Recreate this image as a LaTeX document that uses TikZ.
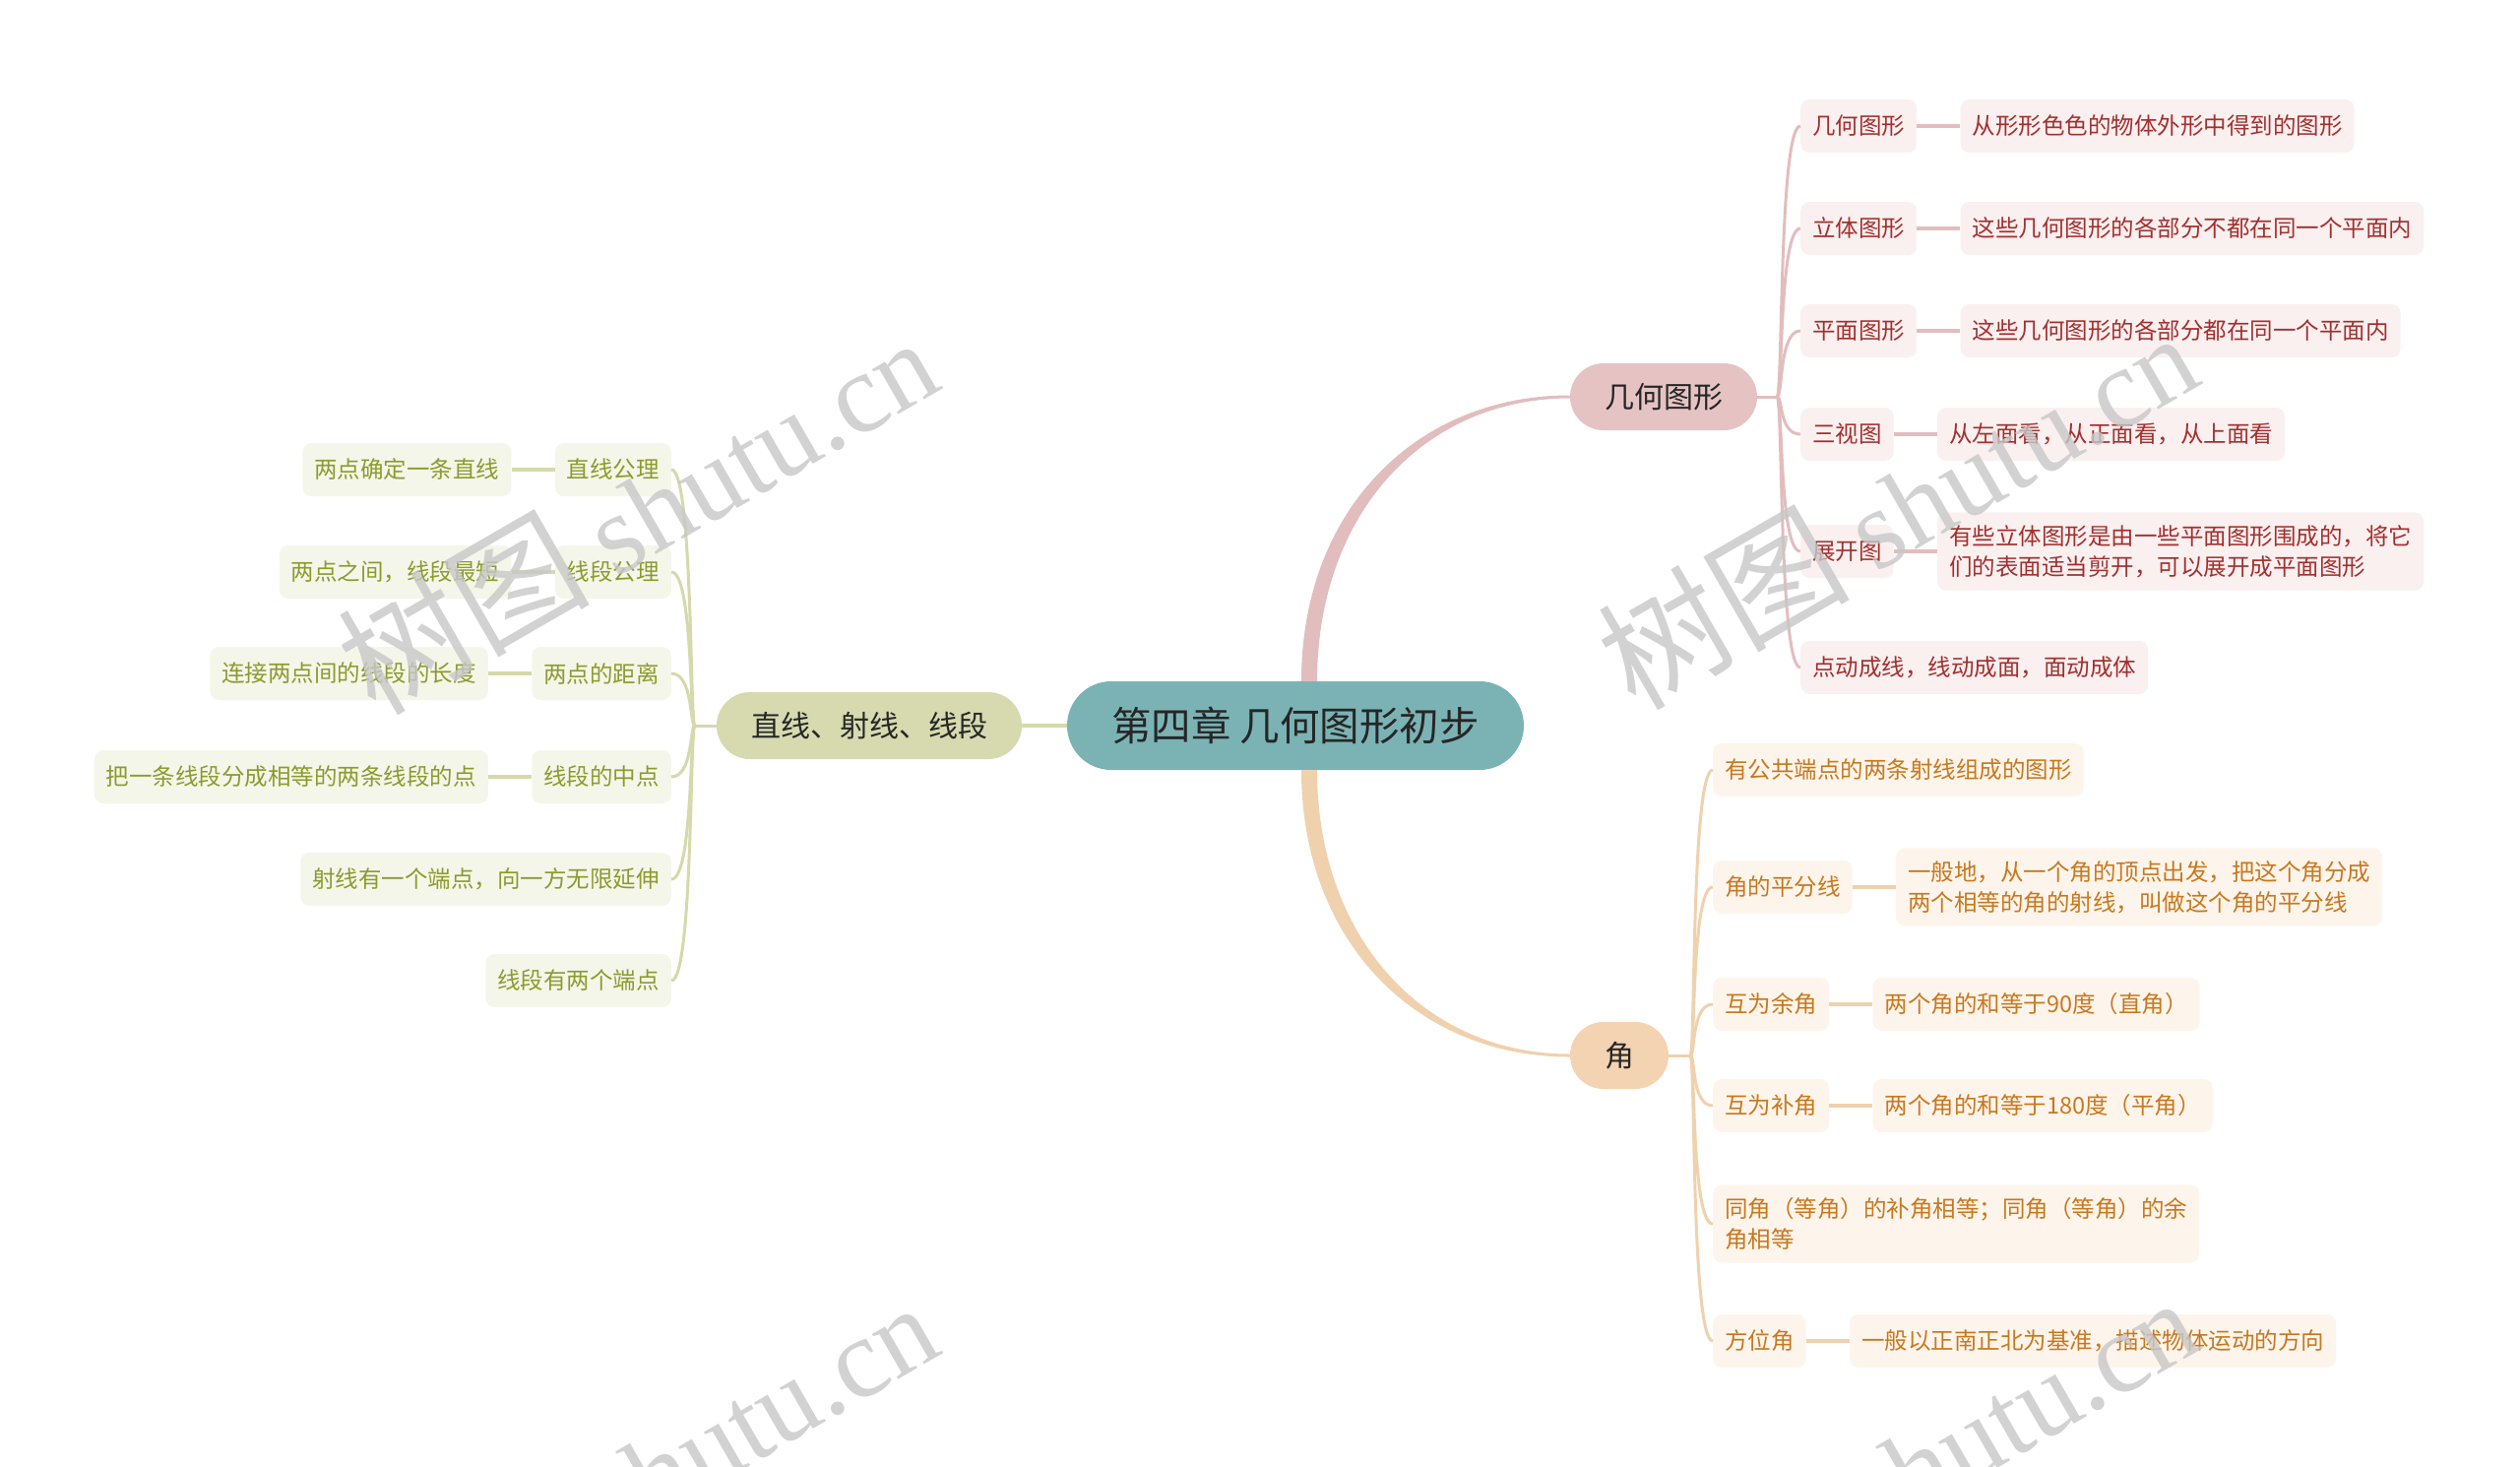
\documentclass[tikz,border=0pt]{standalone}
\usepackage{fontspec}
\setmainfont{Noto Sans CJK SC}
\newfontfamily\wmlatin{Liberation Serif}
\usepackage{tikz}
\usetikzlibrary{positioning,calc}

\definecolor{rootfill}{HTML}{7BB3B5}
\definecolor{inkdark}{HTML}{262626}
\definecolor{geomain}{HTML}{E6C3C3}
\definecolor{geobox}{HTML}{FAF0F0}
\definecolor{geoink}{HTML}{A2302F}
\definecolor{geoline}{HTML}{E2BDBD}
\definecolor{jiaomain}{HTML}{F3D3B1}
\definecolor{jiaobox}{HTML}{FDF5EC}
\definecolor{jiaoink}{HTML}{C8781E}
\definecolor{jiaoline}{HTML}{F0D1AD}
\definecolor{zxmain}{HTML}{D6DAAE}
\definecolor{zxbox}{HTML}{F5F6EA}
\definecolor{zxink}{HTML}{8C9B2D}
\definecolor{zxline}{HTML}{D5D9AB}

\begin{document}
\begin{tikzpicture}[
  x=1pt, y=-1pt,
  rootbox/.style={fill=rootfill, rounded corners=45pt, minimum width=464pt, minimum height=90pt, text=inkdark, font=\fontsize{40.5}{46}\selectfont},
  mainbox/.style={rounded corners=34pt, minimum height=68pt, text=inkdark, font=\fontsize{30}{36}\selectfont},
  leaf/.style={rounded corners=9pt, inner xsep=12pt, inner ysep=13pt, minimum height=54pt, align=left, font=\fontsize{23.5}{31}\selectfont},
  gleaf/.style={leaf, fill=geobox, text=geoink},
  jleaf/.style={leaf, fill=jiaobox, text=jiaoink},
  zleaf/.style={leaf, fill=zxbox, text=zxink},
  gln/.style={draw=geoline, line width=3pt},
  jln/.style={draw=jiaoline, line width=3pt},
  zln/.style={draw=zxline, line width=3pt},
  wm/.style={text=black!22, opacity=0.8, rotate=30, font=\fontsize{115}{115}\selectfont},
]
\useasboundingbox (0,0) rectangle (2560,1489);
\fill[white] (0,0) rectangle (2560,1489);

\node[rootbox] (root) at (1316,737) {第四章 几何图形初步};
\node[mainbox, fill=geomain, minimum width=190pt] (geo) at (1690,403) {几何图形};
\node[mainbox, fill=jiaomain, minimum width=100pt] (jiao) at (1645,1072) {角};
\node[mainbox, fill=zxmain, minimum width=310pt] (zx) at (883,737) {直线、射线、线段};

\node[gleaf, anchor=west] (g1) at (1829,128) {几何图形};
\node[gleaf, right=44pt of g1] (dg1) {从形形色色的物体外形中得到的图形};
\node[gleaf, anchor=west] (g2) at (1829,232) {立体图形};
\node[gleaf, right=44pt of g2] (dg2) {这些几何图形的各部分不都在同一个平面内};
\node[gleaf, anchor=west] (g3) at (1829,336) {平面图形};
\node[gleaf, right=44pt of g3] (dg3) {这些几何图形的各部分都在同一个平面内};
\node[gleaf, anchor=west] (g4) at (1829,441) {三视图};
\node[gleaf, right=44pt of g4] (dg4) {从左面看，从正面看，从上面看};
\node[gleaf, anchor=west] (g5) at (1829,560) {展开图};
\node[gleaf, right=44pt of g5] (dg5) {有些立体图形是由一些平面图形围成的，将它\\们的表面适当剪开，可以展开成平面图形};
\node[gleaf, anchor=west] (g6) at (1829,678) {点动成线，线动成面，面动成体};

\node[jleaf, anchor=west] (j1) at (1740,782) {有公共端点的两条射线组成的图形};
\node[jleaf, anchor=west] (j2) at (1740,901) {角的平分线};
\node[jleaf, right=44pt of j2] (dj2) {一般地，从一个角的顶点出发，把这个角分成\\两个相等的角的射线，叫做这个角的平分线};
\node[jleaf, anchor=west] (j3) at (1740,1020) {互为余角};
\node[jleaf, right=44pt of j3] (dj3) {两个角的和等于90度（直角）};
\node[jleaf, anchor=west] (j4) at (1740,1123) {互为补角};
\node[jleaf, right=44pt of j4] (dj4) {两个角的和等于180度（平角）};
\node[jleaf, anchor=west] (j5) at (1740,1243) {同角（等角）的补角相等；同角（等角）的余\\角相等};
\node[jleaf, anchor=west] (j6) at (1740,1362) {方位角};
\node[jleaf, right=44pt of j6] (dj6) {一般以正南正北为基准，描述物体运动的方向};

\node[zleaf, anchor=east] (z1) at (682,477) {直线公理};
\node[zleaf, left=44pt of z1] (dz1) {两点确定一条直线};
\node[zleaf, anchor=east] (z2) at (682,581) {线段公理};
\node[zleaf, left=44pt of z2] (dz2) {两点之间，线段最短};
\node[zleaf, anchor=east] (z3) at (682,684) {两点的距离};
\node[zleaf, left=44pt of z3] (dz3) {连接两点间的线段的长度};
\node[zleaf, anchor=east] (z4) at (682,789) {线段的中点};
\node[zleaf, left=44pt of z4] (dz4) {把一条线段分成相等的两条线段的点};
\node[zleaf, anchor=east] (z5) at (682,893) {射线有一个端点，向一方无限延伸};
\node[zleaf, anchor=east] (z6) at (682,996) {线段有两个端点};

\fill[geoline] ($(root.north)+(6,0)$) .. controls +(0,-175) and +(-155,0) .. ($(geo.west)+(0,-1.5)$) -- ($(geo.west)+(0,1.5)$) .. controls +(-150,0) and +(0,-168) .. ($(root.north)+(22,0)$) -- cycle;
\fill[jiaoline] ($(root.south)+(6,0)$) .. controls +(0,175) and +(-155,0) .. ($(jiao.west)+(0,1.5)$) -- ($(jiao.west)+(0,-1.5)$) .. controls +(-150,0) and +(0,168) .. ($(root.south)+(22,0)$) -- cycle;
\draw[zln, line width=4pt] (root) -- (zx);

\coordinate (gs) at ($(geo.east)+(20,0)$);
\draw[gln] (geo.east) -- (gs);
\foreach \c in {g1,g2,g3,g4,g5,g6} \draw[gln] (gs) .. controls +(6,0) and +(-22,0) .. (\c.west);
\draw[gln, line width=4pt] (g1) -- (dg1); \draw[gln, line width=4pt] (g2) -- (dg2); \draw[gln, line width=4pt] (g3) -- (dg3);
\draw[gln, line width=4pt] (g4) -- (dg4); \draw[gln, line width=4pt] (g5) -- (dg5);

\coordinate (js) at ($(jiao.east)+(22,0)$);
\draw[jln] (jiao.east) -- (js);
\foreach \c in {j1,j2,j3,j4,j5,j6} \draw[jln] (js) .. controls +(5,0) and +(-22,0) .. (\c.west);
\draw[jln, line width=4pt] (j2) -- (dj2); \draw[jln, line width=4pt] (j3) -- (dj3);
\draw[jln, line width=4pt] (j4) -- (dj4); \draw[jln, line width=4pt] (j6) -- (dj6);

\coordinate (zs) at ($(zx.west)+(-22,0)$);
\draw[zln] (zx.west) -- (zs);
\foreach \c in {z1,z2,z3,z4,z5,z6} \draw[zln] (zs) .. controls +(-5,0) and +(22,0) .. (\c.east);
\draw[zln, line width=4pt] (z1) -- (dz1); \draw[zln, line width=4pt] (z2) -- (dz2);
\draw[zln, line width=4pt] (z3) -- (dz3); \draw[zln, line width=4pt] (z4) -- (dz4);

\begin{scope}
\clip (0,0) rectangle (2560,1489);
\node[wm] (wm1) at (647,519) {{\fontsize{128}{128}\selectfont 树图} {\wmlatin shutu.cn}};
\node[wm] (wm2) at (1927,514) {{\fontsize{128}{128}\selectfont 树图} {\wmlatin shutu.cn}};
\node[wm] (wm3) at (647,1499) {{\fontsize{128}{128}\selectfont 树图} {\wmlatin shutu.cn}};
\node[wm] (wm4) at (1927,1494) {{\fontsize{128}{128}\selectfont 树图} {\wmlatin shutu.cn}};
\end{scope}
\end{tikzpicture}
\end{document}
